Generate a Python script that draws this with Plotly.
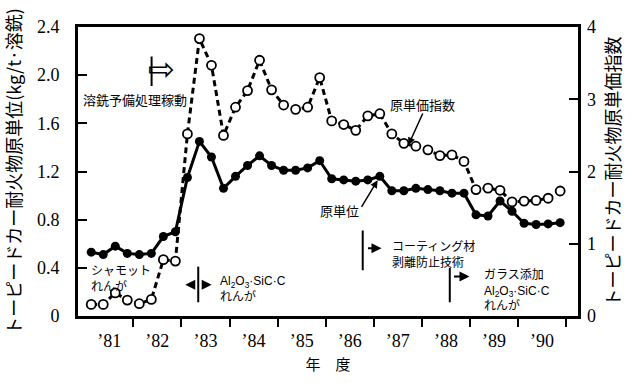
import plotly.graph_objects as go

# ---------------- data ----------------
years = [1981, 1982, 1983, 1984, 1985, 1986, 1987, 1988, 1989, 1990]
year_labels = ["’81", "’82", "’83", "’84", "’85", "’86", "’87", "’88", "’89", "’90"]
quarters = [0, 1, 2, 3]

# 原単位 (kg/t・溶銑), quarterly, left axis
unit_consumption = [
    0.53, 0.51, 0.58, 0.52,
    0.51, 0.52, 0.66, 0.70,
    1.15, 1.45, 1.32, 1.06,
    1.16, 1.25, 1.33, 1.25,
    1.21, 1.21, 1.23, 1.29,
    1.14, 1.13, 1.12, 1.13,
    1.16, 1.04, 1.04, 1.06,
    1.05, 1.04, 1.02, 1.02,
    0.84, 0.83, 0.955, 0.87,
    0.77, 0.76, 0.765, 0.775,
]

# 原単価指数, quarterly, right axis
cost_index = [
    0.16, 0.16, 0.32, 0.22,
    0.17, 0.23, 0.78, 0.76,
    2.52, 3.84, 3.47, 2.50,
    2.89, 3.12, 3.54, 3.13,
    2.92, 2.86, 2.89, 3.30,
    2.70, 2.65, 2.57, 2.77,
    2.80, 2.52, 2.39, 2.35,
    2.30, 2.22, 2.23, 2.14,
    1.75, 1.77, 1.74, 1.58,
    1.59, 1.60, 1.63, 1.73,
]

left_ticks = [0, 0.4, 0.8, 1.2, 1.6, 2.0, 2.4]
left_tick_text = ["0", "0.4", "0.8", "1.2", "1.6", "2.0", "2.4"]
right_ticks = [0, 1, 2, 3, 4]

x = [y + (q + 0.5) / 4 for y in years for q in quarters]

SERIF = "Liberation Serif"
JP = "Noto Sans CJK JP"
MIX = "Liberation Sans, Noto Sans CJK JP"

fig = go.Figure()

fig.add_trace(go.Scatter(
    x=x, y=cost_index, yaxis="y2", mode="lines+markers",
    line=dict(color="black", width=3, dash="6px,4px"),
    marker=dict(symbol="circle", size=9, color="white",
                line=dict(color="black", width=1.8)),
    name="原単価指数",
))
fig.add_trace(go.Scatter(
    x=x, y=unit_consumption, yaxis="y", mode="lines+markers",
    line=dict(color="black", width=3),
    marker=dict(symbol="circle", size=9, color="black"),
    name="原単位",
))

annotations = [
    dict(x=1980.92, y=1.80, text="溶銑予備処理稼動", showarrow=False,
         xanchor="left", yanchor="middle", font=dict(family=JP, size=13, color="black")),
    dict(x=1982.58, y=2.05, text="⇨", showarrow=False,
         xanchor="center", yanchor="middle", font=dict(family="DejaVu Sans", size=32, color="black")),
    dict(x=1981.08, y=0.32, text="シャモット<br>れんが", showarrow=False, align="left",
         xanchor="left", yanchor="middle", font=dict(family=JP, size=12, color="black")),
    dict(x=1983.76, y=0.225, text="Al<sub>2</sub>O<sub>3</sub>·SiC·C<br>れんが", showarrow=False,
         align="left", xanchor="left", yanchor="middle", font=dict(family=MIX, size=12, color="black")),
    dict(x=1987.33, y=0.52, text="コーティング材<br>剥離防止技術", showarrow=False, align="left",
         xanchor="left", yanchor="middle", font=dict(family=JP, size=12, color="black")),
    dict(x=1989.26, y=0.21, text="ガラス添加<br>Al<sub>2</sub>O<sub>3</sub>·SiC·C<br>れんが", showarrow=False,
         align="left", xanchor="left", yanchor="middle", font=dict(family=MIX, size=12, color="black")),
    dict(x=1988.02, y=1.76, text="原単価指数", showarrow=False,
         xanchor="center", yanchor="middle", font=dict(family=JP, size=13, color="black")),
    dict(x=1986.28, y=0.88, text="原単位", showarrow=False,
         xanchor="center", yanchor="middle", font=dict(family=JP, size=13, color="black")),
    # arrows
    dict(x=1987.72, y=1.42, ax=15, ay=-33, text="", showarrow=True,
         arrowhead=2, arrowsize=1, arrowwidth=1.5, arrowcolor="black"),
    dict(x=1987.08, y=1.127, ax=-17, ay=28, text="", showarrow=True,
         arrowhead=2, arrowsize=1, arrowwidth=1.5, arrowcolor="black"),
    dict(x=1983.08, y=0.26, ax=11, ay=0, text="", showarrow=True,
         arrowhead=2, arrowsize=1, arrowwidth=2, arrowcolor="black"),
    dict(x=1983.63, y=0.26, ax=-11, ay=0, text="", showarrow=True,
         arrowhead=2, arrowsize=1, arrowwidth=2, arrowcolor="black"),
    dict(x=1987.16, y=0.563, ax=-15, ay=0, text="", showarrow=True,
         arrowhead=2, arrowsize=1, arrowwidth=2, arrowcolor="black"),
    dict(x=1988.99, y=0.327, ax=-17, ay=0, text="", showarrow=True,
         arrowhead=2, arrowsize=1, arrowwidth=2, arrowcolor="black"),
]

shapes = [
    dict(type="line", xref="x", yref="y", x0=1982.38, x1=1982.38, y0=1.91, y1=2.155,
         line=dict(color="black", width=2)),
    dict(type="line", xref="x", yref="y", x0=1983.35, x1=1983.35, y0=0.114, y1=0.41,
         line=dict(color="black", width=2)),
    dict(type="line", xref="x", yref="y", x0=1986.77, x1=1986.77, y0=0.38, y1=0.71,
         line=dict(color="black", width=2)),
    dict(type="line", xref="x", yref="y", x0=1988.58, x1=1988.58, y0=0.114, y1=0.40,
         line=dict(color="black", width=2)),
]

fig.update_layout(
    width=633, height=383,
    margin=dict(l=73, r=53, t=27, b=61),
    paper_bgcolor="white", plot_bgcolor="white",
    showlegend=False,
    annotations=annotations,
    shapes=shapes,
    xaxis=dict(
        range=[1980.85, 1991.246],
        tickmode="array",
        tickvals=[y + 0.5 for y in years],
        ticktext=year_labels,
        ticks="outside", ticklen=6, tickcolor="rgba(0,0,0,0)",
        tickfont=dict(family=SERIF, size=18, color="black"),
        showline=True, linewidth=3, linecolor="black", mirror=True,
        showgrid=False, zeroline=False,
        minor=dict(tickmode="array", tickvals=[y + 1 for y in years],
                   ticks="outside", ticklen=8, tickwidth=2, tickcolor="black", showgrid=False),
        title=dict(text="年　度", font=dict(family=JP, size=15, color="black"), standoff=10),
    ),
    yaxis=dict(
        range=[0, 2.4],
        tickmode="array", tickvals=left_ticks, ticktext=left_tick_text,
        ticks="inside", ticklen=9, tickwidth=2, tickcolor="black",
        ticklabelstandoff=12,
        tickfont=dict(family=SERIF, size=18, color="black"),
        showline=True, linewidth=3, linecolor="black", mirror=True,
        showgrid=False, zeroline=False,
        title=dict(text="トーピードカー耐火物原単位(kg/t·溶銑)",
                   font=dict(family=JP, size=18, color="black"), standoff=12),
    ),
    yaxis2=dict(
        range=[0, 4], overlaying="y", side="right",
        tickmode="array", tickvals=right_ticks,
        ticks="inside", ticklen=9, tickwidth=2, tickcolor="black",
        ticklabelstandoff=8,
        tickfont=dict(family=SERIF, size=18, color="black"),
        showline=False, showgrid=False, zeroline=False,
        title=dict(text="トーピードカー耐火物原単価指数",
                   font=dict(family=JP, size=18, color="black"), standoff=12),
    ),
)

fig.write_html("out.html")
